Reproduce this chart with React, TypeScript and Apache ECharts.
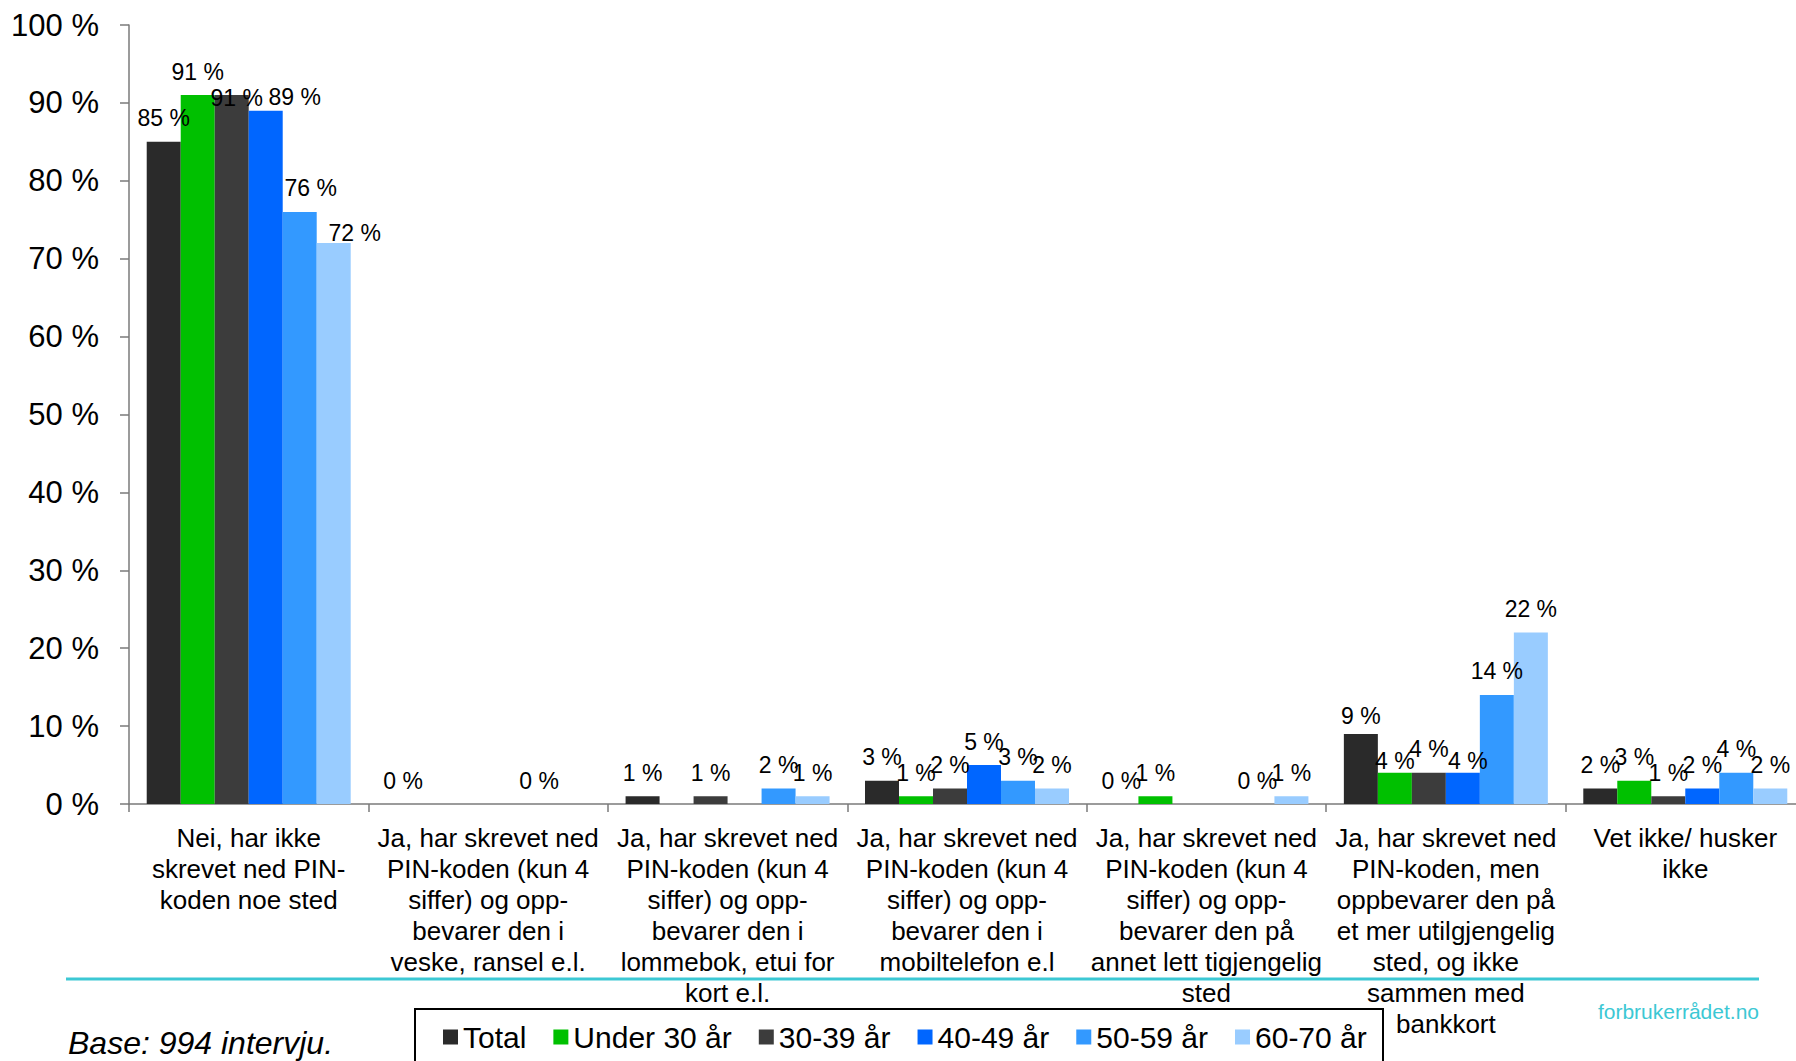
import React, { useEffect, useRef } from "react";
import * as echarts from "echarts";

const categories = [
  "Nei, har ikke\nskrevet ned PIN-\nkoden noe sted",
  "Ja, har skrevet ned\nPIN-koden (kun 4\nsiffer) og opp-\nbevarer den i\nveske, ransel e.l.",
  "Ja, har skrevet ned\nPIN-koden (kun 4\nsiffer) og opp-\nbevarer den i\nlommebok, etui for\nkort e.l.",
  "Ja, har skrevet ned\nPIN-koden (kun 4\nsiffer) og opp-\nbevarer den i\nmobiltelefon e.l",
  "Ja, har skrevet ned\nPIN-koden (kun 4\nsiffer) og opp-\nbevarer den på\nannet lett tigjengelig\nsted",
  "Ja, har skrevet ned\nPIN-koden, men\noppbevarer den på\net mer utilgjengelig\nsted, og ikke\nsammen med\nbankkort",
  "Vet ikke/ husker\nikke",
];

const seriesNames = ["Total", "Under 30 år", "30-39 år", "40-49 år", "50-59 år", "60-70 år"];

const total = [85, 0, 1, 3, 0, 9, 2];
const under30 = [91, null, null, 1, 1, 4, 3];
const age30to39 = [91, null, 1, 2, null, 4, 1];
const age40to49 = [89, null, null, 5, null, 4, 2];
const age50to59 = [76, 0, 2, 3, 0, 14, 4];
const age60to70 = [72, null, 1, 2, 1, 22, 2];

const seriesValues = [total, under30, age30to39, age40to49, age50to59, age60to70];

const colors = ["#2a2a2a", "#00c000", "#3c3c3c", "#0066ff", "#3399ff", "#99ccff"];

// label nudges [seriesIndex, categoryIndex, dx, dy] (styling only)
const labelNudges: [number, number, number, number][] = [
  [2, 0, 5, 26],
  [3, 0, 29, 10],
  [4, 0, 11, 0],
  [5, 0, 21, 13],
  [0, 5, 0, 6],
  [1, 5, 0, 12],
  [3, 5, 5, 12],
];

const FONT = "Arial, 'Liberation Sans', sans-serif";

export default function App() {
  const ref = useRef<HTMLDivElement>(null);

  useEffect(() => {
    if (!ref.current) return;
    const chart = echarts.init(ref.current, null, { renderer: "svg" });

    const series = seriesValues.map((vals, si) => ({
      name: seriesNames[si],
      type: "bar",
      barGap: "0%",
      barCategoryGap: "14.8%",
      itemStyle: { color: colors[si] },
      label: {
        show: true,
        position: "top",
        distance: 12,
        formatter: "{c} %",
        color: "#000",
        fontSize: 23,
        fontFamily: FONT,
      },
      data: vals.map((v, ci) => {
        const n = labelNudges.find((x) => x[0] === si && x[1] === ci);
        if (v === null) return null;
        if (n) return { value: v, label: { offset: [n[2], n[3]] } };
        return v;
      }),
    }));

    chart.setOption({
      animation: false,
      backgroundColor: "#ffffff",
      textStyle: { fontFamily: FONT },
      grid: { left: 129, top: 25, width: 1676, height: 779, containLabel: false },
      legend: {
        data: seriesNames,
        left: 443,
        top: 1022,
        padding: 0,
        icon: "rect",
        itemWidth: 15,
        itemHeight: 15,
        itemGap: 27,
        textStyle: { fontSize: 30, fontFamily: FONT, color: "#000", lineHeight: 30 },
      },
      xAxis: {
        type: "category",
        data: categories,
        axisLine: { show: true, lineStyle: { color: "#7a7a7a", width: 1.5 } },
        axisTick: { show: true, length: 8, lineStyle: { color: "#7a7a7a", width: 1.5 } },
        axisLabel: {
          interval: 0,
          margin: 18,
          fontSize: 26,
          lineHeight: 31,
          fontFamily: FONT,
          color: "#000",
          align: "center",
        },
        splitLine: { show: false },
      },
      yAxis: {
        type: "value",
        min: 0,
        max: 100,
        interval: 10,
        axisLine: { show: true, lineStyle: { color: "#7a7a7a", width: 1.5 } },
        axisTick: { show: true, length: 9, lineStyle: { color: "#7a7a7a", width: 1.5 } },
        axisLabel: {
          formatter: "{value} %",
          margin: 30,
          fontSize: 31,
          fontFamily: FONT,
          color: "#000",
        },
        splitLine: { show: false },
      },
      graphic: [
        {
          type: "line",
          shape: { x1: 66, y1: 979, x2: 1759, y2: 979 },
          style: { stroke: "#3cc8d4", lineWidth: 3 },
          silent: true,
        },
        {
          type: "rect",
          shape: { x: 415, y: 1009, width: 968, height: 70 },
          style: { fill: "none", stroke: "#000", lineWidth: 2 },
          silent: true,
        },
        {
          type: "text",
          x: 68,
          y: 1043,
          style: {
            text: "Base: 994 intervju.",
            fontSize: 32,
            fontStyle: "italic",
            fontFamily: FONT,
            fill: "#000",
            textVerticalAlign: "middle",
            verticalAlign: "middle",
          },
        },
        {
          type: "text",
          x: 1759,
          y: 1011,
          style: {
            text: "forbrukerrådet.no",
            fontSize: 21,
            fontFamily: FONT,
            fill: "#3cc8d4",
            align: "right",
            textAlign: "right",
            verticalAlign: "middle",
            textVerticalAlign: "middle",
          },
        },
      ],
      series,
    });

    return () => chart.dispose();
  }, []);

  return (
    <div
      style={{
        position: "absolute",
        left: 0,
        top: 0,
        width: 1796,
        height: 1061,
        overflow: "hidden",
        background: "#fff",
      }}
    >
      <div ref={ref} style={{ width: 1830, height: 1061 }} />
    </div>
  );
}
